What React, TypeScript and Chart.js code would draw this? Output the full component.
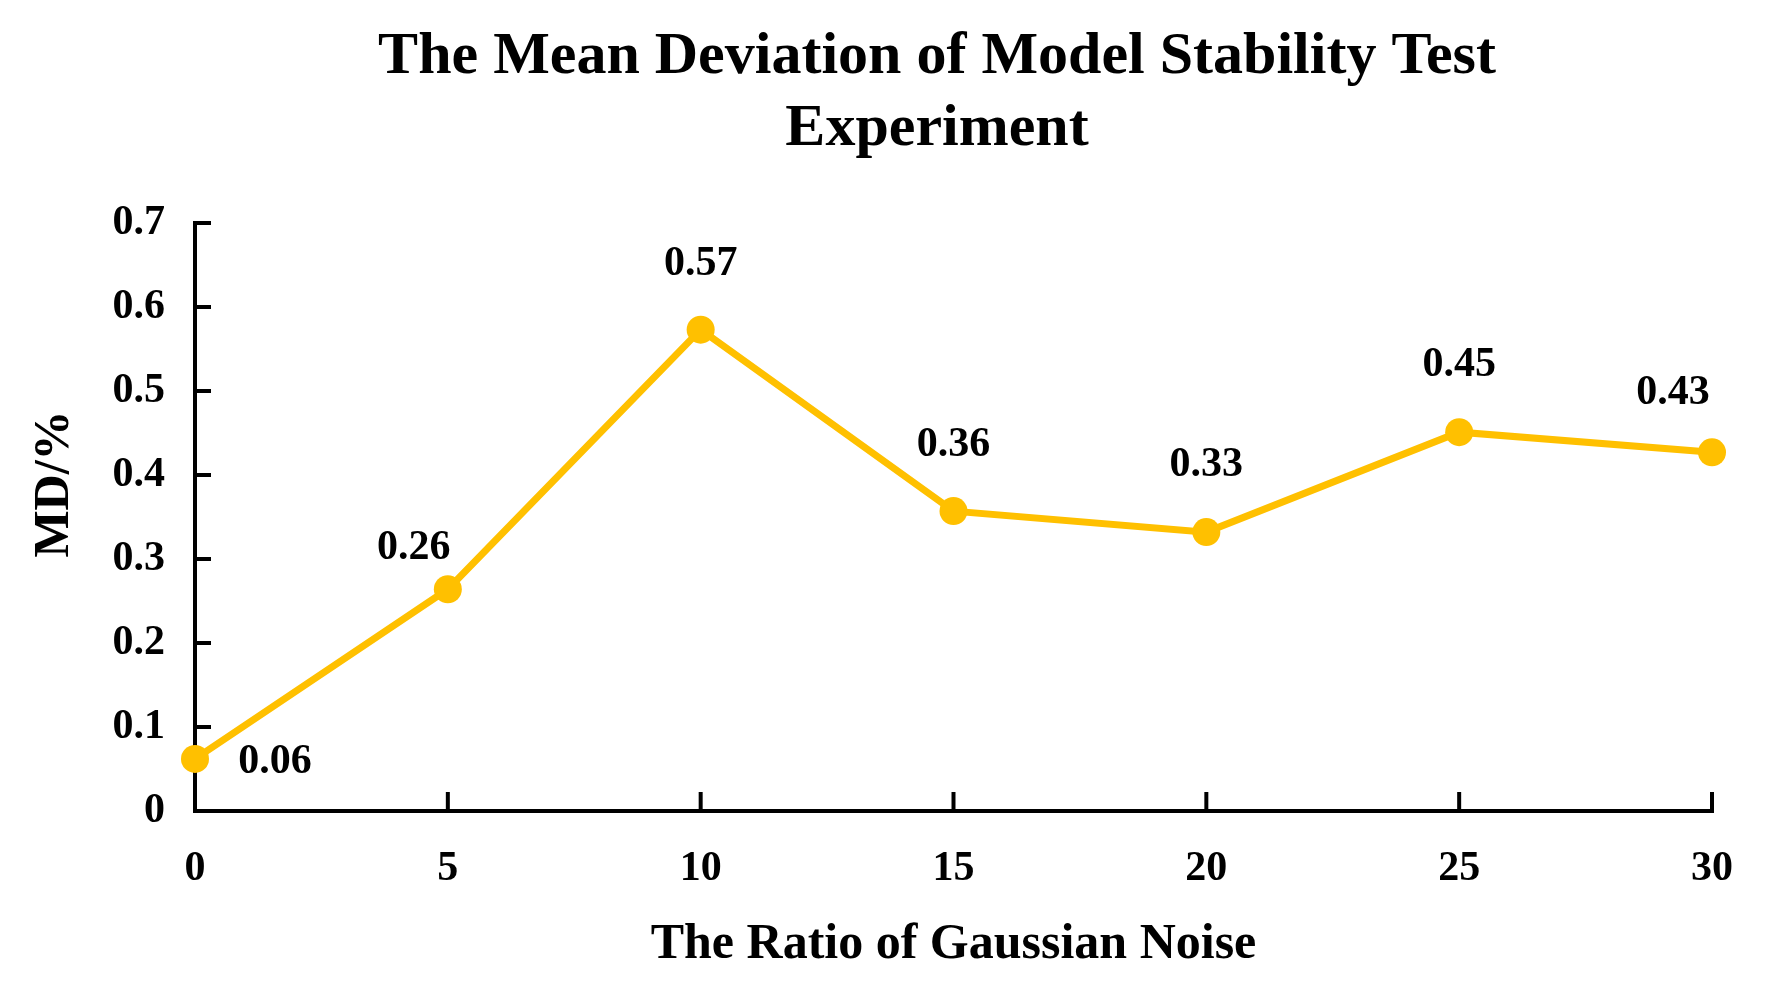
import React, { useEffect, useRef } from "react";
import { Chart, registerables } from "chart.js";

Chart.register(...registerables);

const TITLE_LINES = ["The Mean Deviation of Model Stability Test", "Experiment"];
const X_TITLE = "The Ratio of Gaussian Noise";
const Y_TITLE = "MD/%";
const X_LABELS = ["0", "5", "10", "15", "20", "25", "30"];
const MD_VALUES = [0.062, 0.264, 0.573, 0.357, 0.332, 0.451, 0.427];
const Y_TICK_LABELS = ["0", "0.1", "0.2", "0.3", "0.4", "0.5", "0.6", "0.7"];

const SERIF = "'Liberation Serif', 'Times New Roman', serif";
const GOLD = "#FFC000";

// label placement relative to each point (px)
const LABEL_OFFSETS: [number, number][] = [
  [80, 3],
  [-34, -41],
  [0, -66],
  [0, -66],
  [0, -67],
  [0, -67],
  [-39, -59],
];

const innerTicks = {
  id: "innerTicks",
  beforeDatasetsDraw(chart: any) {
    const { ctx, chartArea, scales } = chart;
    ctx.save();
    ctx.strokeStyle = "#000";
    ctx.lineWidth = 4;
    ctx.lineCap = "butt";
    scales.x.ticks.forEach((_t: any, i: number) => {
      const x = scales.x.getPixelForTick(i);
      ctx.beginPath();
      ctx.moveTo(x, chartArea.bottom);
      ctx.lineTo(x, chartArea.bottom - 19);
      ctx.stroke();
    });
    scales.y.ticks.forEach((_t: any, i: number) => {
      const y = scales.y.getPixelForTick(i);
      ctx.beginPath();
      ctx.moveTo(chartArea.left, y);
      ctx.lineTo(chartArea.left + 16, y);
      ctx.stroke();
    });
    ctx.restore();
  },
};

const dataLabels = {
  id: "dataLabels",
  afterDatasetsDraw(chart: any) {
    const { ctx } = chart;
    const meta = chart.getDatasetMeta(0);
    ctx.save();
    ctx.font = `bold 42px ${SERIF}`;
    ctx.fillStyle = "#000";
    ctx.textAlign = "center";
    ctx.textBaseline = "middle";
    meta.data.forEach((pt: any, i: number) => {
      const [dx, dy] = LABEL_OFFSETS[i] || [0, -60];
      ctx.fillText(MD_VALUES[i].toFixed(2), pt.x + dx, pt.y + dy);
    });
    ctx.restore();
  },
};

const yTitle = {
  id: "yTitle",
  afterDraw(chart: any) {
    const { ctx, chartArea } = chart;
    ctx.save();
    ctx.font = `bold 50px ${SERIF}`;
    ctx.fillStyle = "#000";
    ctx.textAlign = "center";
    ctx.textBaseline = "middle";
    ctx.translate(chartArea.left - 140, (chartArea.top + chartArea.bottom) / 2 - 33);
    ctx.rotate(-Math.PI / 2);
    ctx.fillText(Y_TITLE, 0, 0);
    ctx.restore();
  },
};

export default function App() {
  const ref = useRef<HTMLCanvasElement | null>(null);

  useEffect(() => {
    document.body.style.margin = "0";
    document.body.style.background = "#fff";
    const canvas = ref.current;
    if (!canvas) return;
    const chart = new Chart(canvas, {
      type: "line",
      data: {
        labels: X_LABELS,
        datasets: [
          {
            data: MD_VALUES,
            borderColor: GOLD,
            backgroundColor: GOLD,
            borderWidth: 7,
            pointRadius: 14,
            pointHoverRadius: 14,
            pointBackgroundColor: GOLD,
            pointBorderWidth: 0,
            tension: 0,
            clip: false as any,
          },
        ],
      },
      plugins: [innerTicks, dataLabels, yTitle],
      options: {
        animation: false,
        responsive: false,
        devicePixelRatio: 1,
        events: [],
        layout: { padding: { left: 100, right: 3, top: 0, bottom: 0 } },
        plugins: {
          legend: { display: false },
          tooltip: { enabled: false },
          title: {
            display: true,
            text: TITLE_LINES,
            color: "#000",
            font: { family: SERIF, size: 60, weight: "bold", lineHeight: 1.2 },
            padding: { top: 21, bottom: 58 },
          },
        },
        scales: {
          x: {
            type: "category",
            offset: false,
            grid: { display: true, drawOnChartArea: false, drawTicks: false, lineWidth: 4, color: "#000" },
            border: { display: true, color: "#000", width: 4 },
            ticks: {
              color: "#000",
              padding: 33,
              maxRotation: 0,
              autoSkip: false,
              font: { family: SERIF, size: 42, weight: "bold" },
            },
            title: {
              display: true,
              text: X_TITLE,
              color: "#000",
              font: { family: SERIF, size: 50, weight: "bold", lineHeight: 1.2 },
              padding: { top: 0, bottom: 16 },
            },
            afterFit(scale: any) {
              scale.height = 180;
            },
          },
          y: {
            min: 0,
            max: 0.7,
            grid: { display: true, drawOnChartArea: false, drawTicks: false, lineWidth: 4, color: "#000" },
            border: { display: true, color: "#000", width: 4 },
            ticks: {
              stepSize: 0.1,
              color: "#000",
              padding: 30,
              font: { family: SERIF, size: 42, weight: "bold" },
              callback: (_v: any, i: number) => Y_TICK_LABELS[i],
            },
            afterFit(scale: any) {
              scale.width = 95;
            },
          },
          yRight: {
            type: "linear",
            position: "right",
            display: true,
            grid: { display: false },
            border: { display: false },
            ticks: { display: false },
            afterFit(scale: any) {
              scale.width = 62;
            },
          },
        },
      },
    });
    return () => chart.destroy();
  }, []);

  return (
    <canvas
      ref={ref}
      width={1777}
      height={991}
      style={{ display: "block", width: "1777px", height: "991px" }}
    />
  );
}
